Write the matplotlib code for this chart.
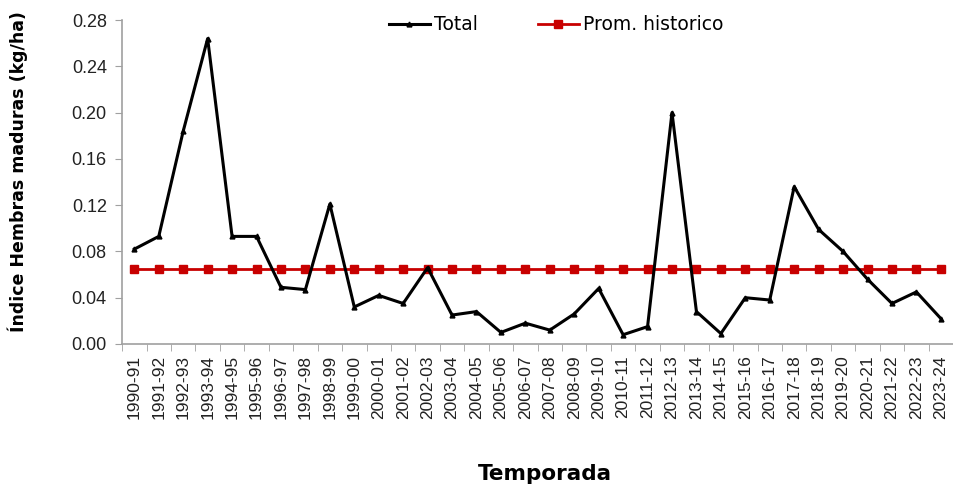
import matplotlib.pyplot as plt
import numpy as np

plt.rcParams['figure.dpi'] = 100
plt.rcParams['font.family'] = 'DejaVu Sans'

# temporadas
temporadas = ['1990-91', '1991-92', '1992-93', '1993-94', '1994-95', '1995-96', '1996-97', '1997-98',
              '1998-99', '1999-00', '2000-01', '2001-02', '2002-03', '2003-04', '2004-05', '2005-06',
              '2006-07', '2007-08', '2008-09', '2009-10', '2010-11', '2011-12', '2012-13', '2013-14',
              '2014-15', '2015-16', '2016-17', '2017-18', '2018-19', '2019-20', '2020-21', '2021-22',
              '2022-23', '2023-24']
# indice hembras maduras
total = [0.082, 0.093, 0.184, 0.264, 0.093, 0.093, 0.049, 0.047,
         0.121, 0.032, 0.042, 0.035, 0.066, 0.025, 0.028, 0.010,
         0.018, 0.012, 0.026, 0.048, 0.008, 0.015, 0.200, 0.028,
         0.009, 0.040, 0.038, 0.136, 0.099, 0.080, 0.056, 0.035,
         0.045, 0.022]
prom_historico = [0.065] * len(temporadas)
y_ticks = [0.00, 0.04, 0.08, 0.12, 0.16, 0.20, 0.24, 0.28]

fig = plt.figure(figsize=(9.54, 4.9))
ax = fig.add_axes([0.128, 0.298, 0.871, 0.661])

x = np.arange(len(temporadas))
ax.plot(x, total, color='black', linewidth=2.2, marker='^', markersize=3.5, label='Total', zorder=3)
ax.plot(x, prom_historico, color='#C80000', linewidth=2, marker='s', markersize=5.5,
        label='Prom. historico', zorder=2)

ax.set_xlim(-0.5, len(temporadas) - 0.5)
ax.set_ylim(0, 0.28)
ax.set_yticks(y_ticks)
ax.set_yticklabels(['%.2f' % v for v in y_ticks], family='Liberation Sans', fontsize=13, color='#222222')

ax.set_xticks(x)
ax.set_xticklabels(temporadas, rotation=90, family='Liberation Sans', fontsize=12.5, color='#222222')
ax.set_xticks(np.arange(-0.5, len(temporadas), 1), minor=True)
ax.tick_params(axis='x', which='major', length=0, pad=8)
ax.tick_params(axis='x', which='minor', length=5, color='#A0A0A0', direction='out')
ax.tick_params(axis='y', length=5, color='#A0A0A0', direction='out', pad=6)

for side in ['top', 'right']:
    ax.spines[side].set_visible(False)
for side in ['left', 'bottom']:
    ax.spines[side].set_color('#A0A0A0')
    ax.spines[side].set_linewidth(1.2)

ax.set_ylabel('Índice Hembras maduras (kg/ha)', fontsize=12.5, fontweight='bold')
ax.yaxis.set_label_coords(28 / 954, 1 - 172 / 490, transform=fig.transFigure)
ax.set_xlabel('Temporada', fontsize=15.5, fontweight='bold')
ax.xaxis.set_label_coords(545 / 954, 1 - 464 / 490, transform=fig.transFigure)

ax.legend(loc='center', bbox_to_anchor=(556 / 954, 1 - 25 / 490), bbox_transform=fig.transFigure,
          ncol=2, frameon=False, fontsize=13.5, handlelength=2.2, handletextpad=0.2, columnspacing=3.2)

plt.savefig('out.png', dpi=100)
